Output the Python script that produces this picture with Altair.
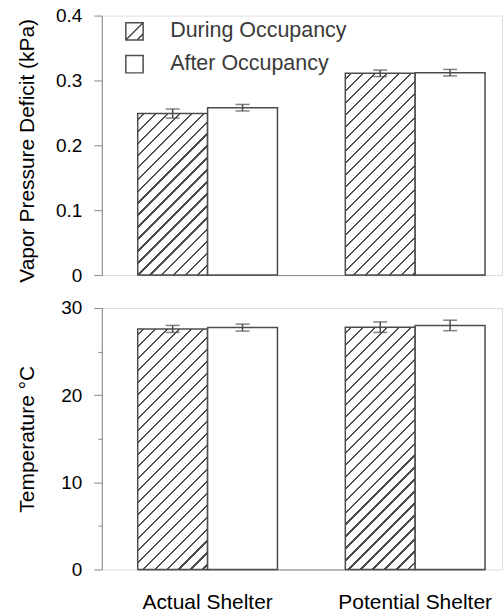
import altair as alt

# ---------------- data ----------------
groups = ["Actual Shelter", "Potential Shelter"]
series = ["During Occupancy", "After Occupancy"]

vpd_during = [0.249, 0.311]
vpd_during_err = [0.007, 0.005]
vpd_after = [0.258, 0.312]
vpd_after_err = [0.005, 0.005]

temp_during = [27.6, 27.8]
temp_during_err = [0.4, 0.6]
temp_after = [27.75, 28.0]
temp_after_err = [0.4, 0.6]

vpd_ticks = [0, 0.05, 0.1, 0.15, 0.2, 0.25, 0.3, 0.35, 0.4]
temp_ticks = [0, 5, 10, 15, 20, 25, 30]

# ---------------- style ----------------
FONT = "Liberation Sans"
TXT = "#3a3a3a"
LINE = "#4d4d4d"
PLOT_W = 401
TOP_H = 260
BOT_H = 262
BAR_W = 70.0
HATCH_D = 12.0
HATCH_W = 2.2

SHAPE_HATCH = "M-1,-1L1,-1L1,1L-1,1Z M-1,1L1,-1 M0.3,1L1,0.3"
SHAPE_PLAIN = "M-1,-1L1,-1L1,1L-1,1Z"


def hatch(h_px):
    """Linear gradient emulating 45-degree '/' hatch lines for a bar of BAR_W x h_px."""
    W, H = BAR_W, h_px
    L = W + H
    k = L / (W * W + H * H)
    stops = [{"offset": 0, "color": "white"}]
    c = HATCH_D / 2
    while c - HATCH_W / 2 < L:
        a = max(0.0, (c - HATCH_W / 2) / L)
        b = min(1.0, (c + HATCH_W / 2) / L)
        stops += [
            {"offset": a, "color": "white"},
            {"offset": a, "color": LINE},
            {"offset": b, "color": LINE},
            {"offset": b, "color": "white"},
        ]
        c += HATCH_D
    stops.append({"offset": 1, "color": "white"})
    return {"gradient": "linear", "x1": 0, "y1": 0, "x2": k * W, "y2": k * H, "stops": stops}


def records(during, during_err, after, after_err, ymax, height):
    rows = []
    for i, g in enumerate(groups):
        rows.append({"group": g, "series": series[0], "value": during[i],
                     "err": during_err[i], "hatch": hatch(during[i] / ymax * height)})
        rows.append({"group": g, "series": series[1], "value": after[i],
                     "err": after_err[i], "hatch": "white"})
    return rows


def panel(rows, ymax, height, ticks, title, title_y, minor_expr, fmt, show_labels, legend):
    data = alt.Data(values=rows)
    x = alt.X(
        "group:N", sort=groups,
        scale=alt.Scale(range=[36, 384], paddingInner=0.326923, paddingOuter=0),
        axis=alt.Axis(
            title=None, ticks=False, labels=show_labels, labelAngle=0,
            labelFontSize=21, labelPadding=22, domain=True,
        ),
    )
    xo = alt.XOffset("series:N", sort=series, scale=alt.Scale(paddingInner=0, paddingOuter=0))
    y = alt.Y(
        "value:Q", stack=None,
        scale=alt.Scale(domain=[0, ymax], nice=False, zero=True),
        axis=alt.Axis(
            values=ticks, title=title, grid=False,
            labelExpr=f"{minor_expr} ? '' : format(datum.value, '{fmt}')",
            tickSize={"condition": {"test": minor_expr, "value": 4}, "value": 8},
            labelFontSize=19, labelPadding=12,
            titleFontSize=21, titleFontWeight="normal",
            titleX=-74, titleY=title_y, titleBaseline="middle", titleAlign="center",
            titleAngle=270,
        ),
    )
    hatch_bars = alt.Chart(data).mark_bar(stroke=LINE, strokeWidth=1.5).encode(
        x=x, xOffset=xo, y=y,
        fill=alt.Fill("hatch:N", scale=None),
    )

    err_base = alt.Chart(data).transform_calculate(
        lo="datum.value - datum.err", hi="datum.value + datum.err"
    )
    err_rule = err_base.mark_rule(color=LINE, strokeWidth=1.5).encode(
        x=x, xOffset=xo, y="lo:Q", y2="hi:Q"
    )
    cap_lo = err_base.mark_tick(color=LINE, thickness=1.5, size=14).encode(
        x=x, xOffset=xo, y="lo:Q"
    )
    cap_hi = err_base.mark_tick(color=LINE, thickness=1.5, size=14).encode(
        x=x, xOffset=xo, y="hi:Q"
    )
    layers = [hatch_bars, err_rule, cap_lo, cap_hi]
    if legend:
        leg = alt.Legend(
            title=None, orient="none", legendX=22, legendY=5,
            symbolSize=300, symbolStrokeColor=LINE, symbolFillColor="white",
            symbolStrokeWidth=1.5, labelFontSize=21.5, labelColor=TXT, labelFont=FONT,
            labelOffset=25, rowPadding=9, symbolOpacity=1, labelLimit=400,
        )
        keys = alt.Chart(data).mark_point(size=0, filled=False, strokeWidth=0).encode(
            x=x, xOffset=xo, y=y,
            shape=alt.Shape("series:N", sort=series,
                            scale=alt.Scale(domain=series, range=[SHAPE_HATCH, SHAPE_PLAIN]),
                            legend=leg),
        )
        layers.append(keys)
    return alt.layer(*layers).properties(width=PLOT_W, height=height)


top = panel(
    records(vpd_during, vpd_during_err, vpd_after, vpd_after_err, 0.4, TOP_H),
    0.4, TOP_H, vpd_ticks, "Vapor Pressure Deficit (kPa)", 135,
    "round(datum.value * 20) % 2 === 1", ".1~f", False, True,
)
bottom = panel(
    records(temp_during, temp_during_err, temp_after, temp_after_err, 30, BOT_H),
    30, BOT_H, temp_ticks, "Temperature °C", 131,
    "round(datum.value / 5) % 2 === 1", "d", True, False,
)

chart = alt.vconcat(top, bottom, spacing=12).properties(
    padding={"left": 16, "top": 5, "right": 0, "bottom": 0}
).configure_view(strokeWidth=0, stroke="transparent").configure_axis(
    domainColor=LINE, domainWidth=1.5, tickColor=LINE, tickWidth=1.5,
    labelColor=TXT, titleColor=TXT, labelFont=FONT, titleFont=FONT,
).configure(font=FONT, background="white")

chart.save("out.html", embed_options={"renderer": "svg", "actions": False})
